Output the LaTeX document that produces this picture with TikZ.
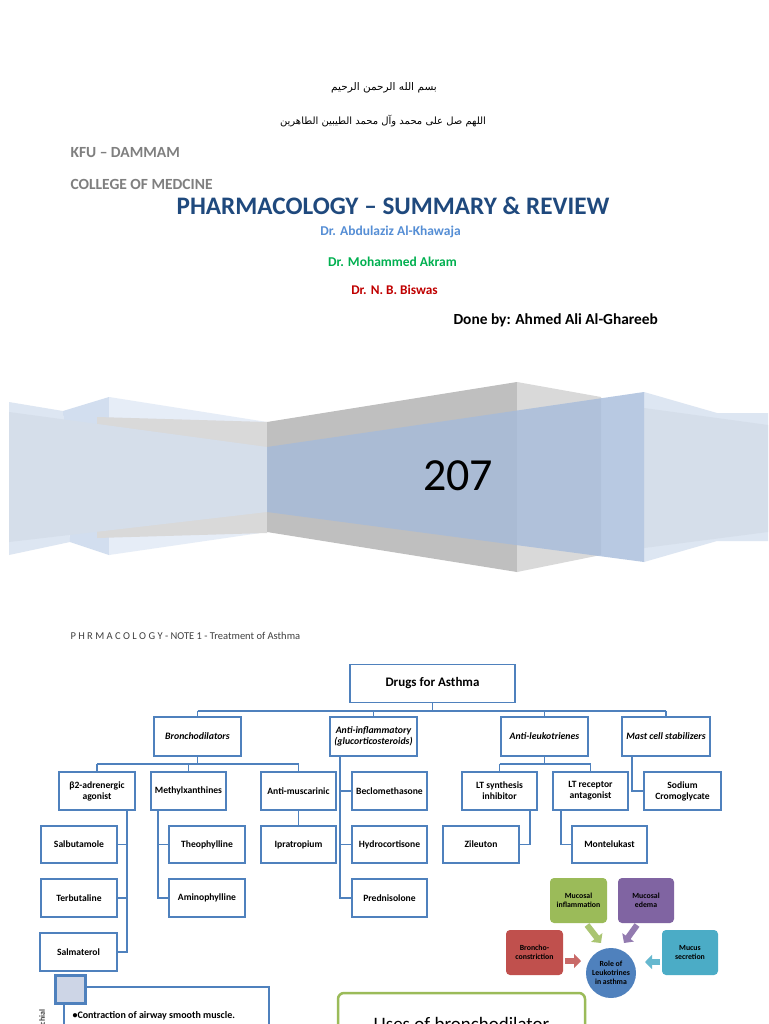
\documentclass[tikz,border=0pt]{standalone}
\usepackage{fontspec}
\setmainfont{Carlito}
\newfontfamily\arabicfont[Script=Arabic]{DejaVu Sans}
\TeXXeTstate=1
\usetikzlibrary{arrows.meta,calc}
\definecolor{boxblue}{HTML}{4F81BD}
\definecolor{titleblue}{HTML}{1F497D}
\definecolor{drblue}{HTML}{558ED5}
\definecolor{drgreen}{HTML}{00B050}
\definecolor{drred}{HTML}{C00000}
\definecolor{hdgray}{HTML}{7F7F7F}
\definecolor{notegray}{HTML}{404040}
\definecolor{rbA}{HTML}{DDE6F2}
\definecolor{rbB}{HTML}{D2DEEF}
\definecolor{rbC}{HTML}{E6EDF7}
\definecolor{panel}{HTML}{D5DEEA}
\definecolor{gryL}{HTML}{D9D9D9}
\definecolor{gryD}{HTML}{BFBFBF}
\definecolor{ribbon}{RGB}{165,187,219}
\definecolor{lgreen}{HTML}{9BBB59}
\definecolor{lpurple}{HTML}{8064A2}
\definecolor{lred}{HTML}{C0504D}
\definecolor{lcyan}{HTML}{4BACC6}
\definecolor{sqfill}{HTML}{CDD5E6}
\tikzset{
  tbox/.style={draw=boxblue, line width=1.6pt, fill=white, align=center, inner sep=1pt, font=\fontsize{9.6}{11}\selectfont\bfseries},
  lvlone/.style={tbox, minimum width=87pt, minimum height=39pt, font=\fontsize{9.8}{11.2}\selectfont\bfseries\itshape},
  lvltwo/.style={tbox, minimum width=75pt, minimum height=38pt},
  conn/.style={draw=boxblue, line width=1.6pt},
  petal/.style={rounded corners=4pt, minimum width=56pt, minimum height=45pt, align=center, font=\fontsize{7.8}{9.5}\selectfont\bfseries, inner sep=1pt},
  blockarr/.style={line width=6pt, -{Triangle[length=7pt,width=14pt]}},
}
\begin{document}
\begin{tikzpicture}[x=1pt,y=-1pt]
\useasboundingbox (0,0) rectangle (768,1024);
\clip (0,0) rectangle (768,1024);
\fill[white] (0,0) rectangle (768,1024);

% Arabic lines
\node[font=\arabicfont\fontsize{10.5}{12}\selectfont] (ar1) at (384,88) {\beginR بسم الله الرحمن الرحيم\endR};
\node[font=\arabicfont\fontsize{10}{12}\selectfont] (ar2) at (383,121) {\beginR اللهم صل على محمد وآل محمد الطيبين الطاهرين\endR};

% Header
\node[anchor=west, text=hdgray, font=\fontsize{15.5}{17}\selectfont\bfseries] (kfu) at (67,153) {KFU – DAMMAM};
\node[anchor=west, text=hdgray, font=\fontsize{15.5}{17}\selectfont\bfseries] (col) at (67,184) {COLLEGE OF MEDCINE};
\node[text=titleblue, font=\fontsize{25.2}{28}\selectfont\bfseries] (title) at (393,206) {PHARMACOLOGY – SUMMARY \& REVIEW};
\node[text=drblue, font=\fontsize{13.5}{15}\selectfont\bfseries] (dr1) at (390.5,232) {Dr. Abdulaziz Al-Khawaja};
\node[text=drgreen, font=\fontsize{13.5}{15}\selectfont\bfseries] (dr2) at (392.5,262) {Dr. Mohammed Akram};
\node[text=drred, font=\fontsize{13.3}{15}\selectfont\bfseries] (dr3) at (394.5,290) {Dr. N. B. Biswas};
\node[anchor=west, font=\fontsize{15.4}{17}\selectfont\bfseries] (done) at (450,320) {Done by: Ahmed Ali Al-Ghareeb};

% Banner
\fill[rbA] (9,402) -- (63,411) -- (70,542) -- (9,555) -- cycle;
\fill[rbB] (63,411) -- (109,397) -- (109,555) -- (70,542) -- cycle;
\fill[rbC] (109,397) -- (267,422) -- (267,532) -- (109,555) -- cycle;
\fill[gryL] (97,417) -- (267,422) -- (267,533) -- (97,538) -- cycle;
\fill[gryD] (267,422) -- (517,382) -- (517,572) -- (267,532) -- cycle;
\fill[gryL] (517,382) -- (601,397) -- (601,555) -- (517,572) -- cycle;
\fill[panel] (9,412) -- (267,447) -- (267,512) -- (9,542) -- cycle;
\fill[rbA] (644,392) -- (717,413) -- (768,413) -- (768,541) -- (717,541) -- (644,562) -- cycle;
\fill[panel] (644,408) -- (768,425) -- (768,532) -- (644,548) -- cycle;
\fill[ribbon, opacity=0.78] (267,447) -- (644,392) -- (644,562) -- (267,512) -- cycle;
\node[font=\fontsize{46}{50}\selectfont] (num) at (458,476) {207};

% Note line
\node[anchor=west, text=notegray, font=\fontsize{10.5}{12}\selectfont] (note) at (67,636) {P H R M A C O L O G Y - NOTE 1 - Treatment of Asthma};

% Tree
\node[tbox, minimum width=165pt, minimum height=38pt, font=\fontsize{13}{15}\selectfont\bfseries] (drugs) at (432.5,683.5) {Drugs for Asthma};
\node[lvlone] (broncho) at (197.5,736.5) {Bronchodilators};
\node[lvlone] (antiinf) at (373.5,736.5) {Anti-inflammatory\\(glucorticosteroids)};
\node[lvlone] (antileuko) at (544.5,736.5) {Anti-leukotrienes};
\node[lvlone, minimum width=88pt] (mast) at (666,736.5) {Mast cell stabilizers};

\node[lvltwo, minimum width=76pt] (beta2) at (97,791) {β2-adrenergic\\agonist};
\node[lvltwo] (methyl) at (188.5,791) {Methylxanthines};
\node[lvltwo] (antimusc) at (298.5,791) {Anti-muscarinic};
\node[lvltwo] (beclo) at (389.5,791) {Beclomethasone};
\node[lvltwo] (ltsyn) at (499.5,791) {LT synthesis\\inhibitor};
\node[lvltwo] (ltrec) at (590.5,791) {LT receptor\\antagonist};
\node[lvltwo, minimum width=77pt] (sodium) at (682.5,791) {Sodium\\Cromoglycate};

\node[lvltwo, minimum width=76pt, minimum height=37pt] (salbu) at (79,844.5) {Salbutamole};
\node[lvltwo, minimum width=76pt] (terbu) at (79,898) {Terbutaline};
\node[lvltwo, minimum width=77pt] (salma) at (78.5,952) {Salmaterol};
\node[lvltwo, minimum width=76pt, minimum height=37pt] (theo) at (207,844.5) {Theophylline};
\node[lvltwo, minimum width=76pt] (amino) at (207,898) {Aminophylline};
\node[lvltwo, minimum height=37pt] (iprat) at (298.5,844.5) {Ipratropium};
\node[lvltwo, minimum height=37pt] (hydro) at (389.5,844.5) {Hydrocortisone};
\node[lvltwo] (predni) at (389.5,898) {Prednisolone};
\node[lvltwo, minimum width=76pt, minimum height=37pt] (zileu) at (481,844.5) {Zileuton};
\node[lvltwo, minimum height=37pt] (monte) at (609.5,844.5) {Montelukast};

% Connectors
\coordinate (bar0) at ($(drugs.south)+(0,7.5)$);
\draw[conn] (drugs.south) -- (bar0);
\draw[conn] (bar0 -| broncho.north) -- (bar0 -| mast.north);
\foreach \n in {broncho,antiinf,antileuko,mast} \draw[conn] (bar0 -| \n.north) -- (\n.north);

\coordinate (bar1) at ($(broncho.south)+(0,7)$);
\draw[conn] (broncho.south) -- (bar1);
\draw[conn] (bar1 -| beta2.north) -- (bar1 -| antimusc.north);
\foreach \n in {beta2,methyl,antimusc} \draw[conn] (bar1 -| \n.north) -- (\n.north);

\coordinate (bar2) at ($(antileuko.south)+(0,7)$);
\draw[conn] (antileuko.south) -- (bar2);
\draw[conn] (bar2 -| ltsyn.north) -- (bar2 -| ltrec.north);
\foreach \n in {ltsyn,ltrec} \draw[conn] (bar2 -| \n.north) -- (\n.north);

\foreach \n in {salbu,terbu,salma} \draw[conn] ([xshift=30pt]beta2.south) |- (\n.east);
\foreach \n in {theo,amino} \draw[conn] ([xshift=-30.5pt]methyl.south) |- (\n.west);
\draw[conn] (antimusc.south) -- (iprat.north);
\foreach \n in {beclo,hydro,predni} \draw[conn] ([xshift=-33.5pt]antiinf.south) |- (\n.west);
\draw[conn] ([xshift=30.5pt]ltsyn.south) |- (zileu.east);
\draw[conn] ([xshift=-29.5pt]ltrec.south) |- (monte.west);
\draw[conn] ([xshift=-34pt]mast.south) |- (sodium.west);

% Leukotriene diagram
\node[petal, fill=lgreen, minimum width=57pt] (mi) at (578.5,900.5) {Mucosal\\inflammation};
\node[petal, fill=lpurple] (me) at (646,900.5) {Mucosal\\edema};
\node[petal, fill=lred, minimum width=57pt] (bc) at (534.5,952.5) {Broncho-\\constriction};
\node[petal, fill=lcyan] (ms) at (690,952.5) {Mucus\\secretion};
\node[circle, fill=boxblue, minimum size=50pt, inner sep=0pt, align=center, font=\fontsize{7.8}{9.2}\selectfont\bfseries] (role) at (611,973) {Role of\\Leukotrines\\in asthma};
\coordinate (ga) at (587,925); \coordinate (gb) at (601,943);
\coordinate (pa) at (637,925); \coordinate (pb) at (624,943);
\coordinate (ra) at (565,961); \coordinate (rb) at (581,961);
\coordinate (ca) at (660,962); \coordinate (cb) at (645,962);
\draw[blockarr, draw=lgreen!85!white, color=lgreen!85!white] (ga) -- (gb);
\draw[blockarr, draw=lpurple!85!white, color=lpurple!85!white] (pa) -- (pb);
\draw[blockarr, draw=lred!85!white, color=lred!85!white] (ra) -- (rb);
\draw[blockarr, draw=lcyan!85!white, color=lcyan!85!white] (ca) -- (cb);

% Bottom left box
\draw[draw=boxblue, line width=1.5pt, fill=white] (64,987) rectangle (269,1040);
\node[draw=boxblue, line width=2.5pt, fill=sqfill, minimum width=30pt, minimum height=28pt, inner sep=0pt] (sq) at (70.5,989.5) {};
\node[anchor=west, font=\fontsize{10}{12}\selectfont\bfseries] (contr) at (69,1016) {\textbullet Contraction of airway smooth muscle.};
\node[rotate=90, anchor=east, font=\fontsize{8}{9}\selectfont\bfseries, text=notegray] (bronch) at (42,1006) {Bronchial};

% Uses box
\draw[draw=lgreen, line width=2.5pt, rounded corners=6pt, fill=white] (338,993) rectangle (585,1050);
\node[anchor=base, font=\fontsize{19}{21}\selectfont] (uses) at (461.5,1030) {Uses of bronchodilator};
\end{tikzpicture}
\end{document}
